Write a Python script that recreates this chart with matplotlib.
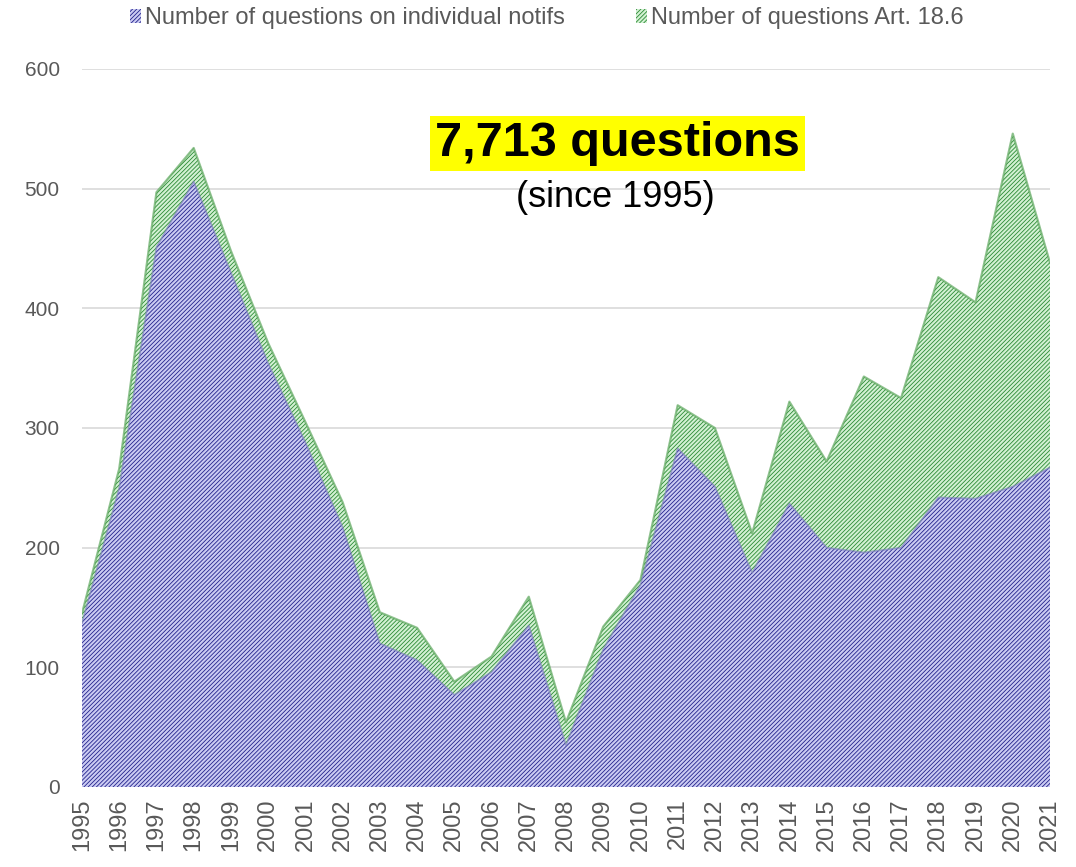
import matplotlib
matplotlib.use('Agg')
import matplotlib.pyplot as plt
import matplotlib.patches as mpatches
import numpy as np

plt.rcParams['font.family'] = ['Liberation Sans', 'DejaVu Sans']
plt.rcParams['hatch.linewidth'] = 0.6

# Data
years = list(range(1995, 2022))
individual_notifs = [137, 250, 451, 506, 430, 354, 288, 217, 120, 106, 77, 96, 135, 35,
                     115, 169, 283, 251, 179, 237, 200, 196, 200, 242, 241, 251, 267]
art_18_6 = [8, 16, 46, 28, 18, 17, 17, 21, 26, 27, 11, 13, 24, 19,
            19, 4, 36, 49, 33, 85, 72, 147, 125, 184, 164, 295, 171]
series_labels = ['Number of questions on individual notifs', 'Number of questions Art. 18.6']

blue_face, blue_hatch = '#cbcbf2', '#22228c'
green_face, green_hatch = '#d3f1d3', '#2a8a34'

fig = plt.figure(figsize=(10.76, 8.67), dpi=100)
ax = fig.add_axes([82/1076, 1 - 787/867, (1050 - 82)/1076, (787 - 69)/867])

x = np.array(years)
blue = np.array(individual_notifs)
total = blue + np.array(art_18_6)

ax.fill_between(x, 0, blue, facecolor=blue_face, edgecolor=blue_hatch,
                hatch='////////', linewidth=0, zorder=3)
ax.fill_between(x, blue, total, facecolor=green_face, edgecolor=green_hatch,
                hatch='////////', linewidth=0, zorder=3)
# soft edges along the tops
ax.plot(x, total, color='#5fa85f', linewidth=1.6, alpha=0.7, zorder=4)
ax.plot(x, blue, color='#7070b8', linewidth=1.2, alpha=0.6, zorder=4)

ax.set_xlim(1995, 2021)
ax.set_ylim(0, 600)
ax.set_yticks(range(0, 601, 100))
ax.set_xticks(years)
ax.set_xticklabels([str(y) for y in years], rotation=90)
ax.tick_params(axis='both', length=0, labelcolor='#595959')
ax.tick_params(axis='y', pad=16, labelsize=15)
ax.tick_params(axis='x', pad=8, labelsize=17)
ax.grid(axis='y', color='#d9d9d9', linewidth=1.2, zorder=0)
ax.set_axisbelow(True)
for s in ax.spines.values():
    s.set_visible(False)

# Highlight annotation
ax.text(0.553, 0.896, '7,713 questions', transform=ax.transAxes, ha='center', va='center',
        fontsize=35, fontweight='bold', color='black', zorder=6,
        bbox=dict(boxstyle='square,pad=0.1', facecolor='#ffff00', edgecolor='none'))
ax.text(0.551, 0.821, '(since 1995)', transform=ax.transAxes, ha='center', va='center',
        fontsize=26, color='black', zorder=6)

handles = [
    mpatches.Patch(facecolor=blue_face, edgecolor=blue_hatch, hatch='////////', linewidth=0, label=series_labels[0]),
    mpatches.Patch(facecolor=green_face, edgecolor=green_hatch, hatch='////////', linewidth=0, label=series_labels[1]),
]
fig.legend(handles=handles, loc='center', bbox_to_anchor=(0.508, 0.979), ncol=2, frameon=False,
           fontsize=17, labelcolor='#595959', handlelength=0.5, handleheight=0.5,
           handletextpad=0.15, columnspacing=3.0)

plt.savefig('out.png', dpi=100)
